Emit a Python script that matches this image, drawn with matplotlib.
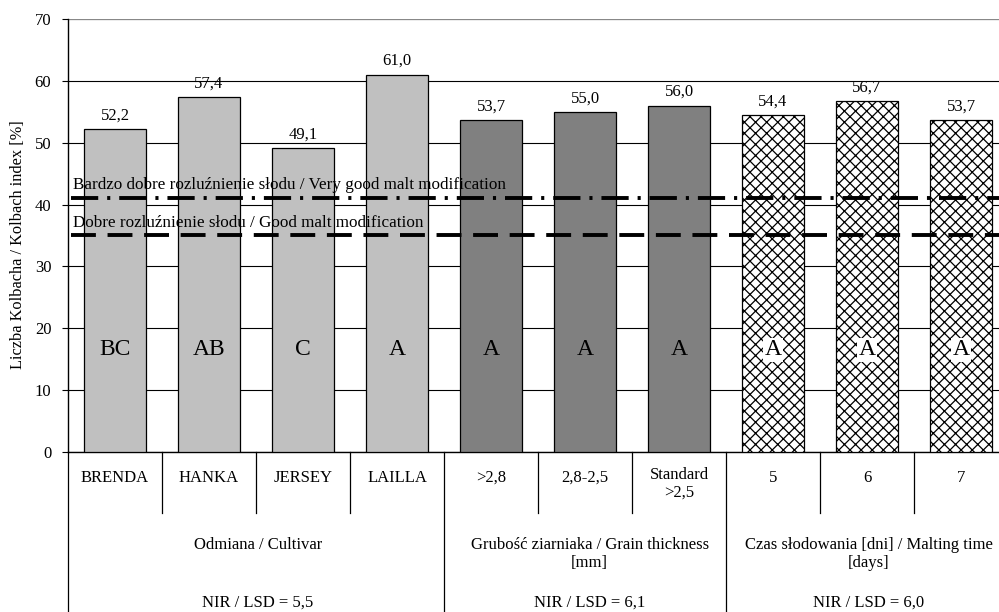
import matplotlib.pyplot as plt
from matplotlib import transforms

plt.rcParams['font.family'] = ['Liberation Serif', 'DejaVu Serif']
plt.rcParams['hatch.linewidth'] = 0.9

# Dane
kategorie = ['BRENDA', 'HANKA', 'JERSEY', 'LAILLA', '>2,8', '2,8-2,5', 'Standard\n>2,5', '5', '6', '7', '']
wartosci = [52.2, 57.4, 49.1, 61.0, 53.7, 55.0, 56.0, 54.4, 56.7, 53.7, 0]
litery = ['BC', 'AB', 'C', 'A', 'A', 'A', 'A', 'A', 'A', 'A', '']
grupy = ['Odmiana / Cultivar', 'Grubość ziarniaka / Grain thickness\n[mm]',
         'Czas słodowania [dni] / Malting time\n[days]']
nir = ['NIR / LSD = 5,5', 'NIR / LSD = 6,1', 'NIR / LSD = 6,0']
granice_grup = [-0.5, 3.5, 6.5]
srodki_grup = [1.52, 5.05, 8.02]
prog_bardzo_dobre = 41.0
prog_dobre = 35.0

kolory = ['#c0c0c0'] * 4 + ['#808080'] * 3 + ['white'] * 4
kreskowanie = [None] * 7 + ['xxx'] * 4

fig = plt.figure(figsize=(9.99, 6.12), dpi=100)
ax = fig.add_axes([68 / 999, 160 / 612, 1034 / 999, 433 / 612])

n = len(kategorie)
x = list(range(n))
for i in range(n - 1):
    ax.bar(x[i], wartosci[i], width=0.67, color=kolory[i], edgecolor='black',
           linewidth=0.9, hatch=kreskowanie[i], zorder=3)
    ax.text(x[i], wartosci[i] + 0.9, f"{wartosci[i]:.1f}".replace('.', ','),
            ha='center', va='bottom', fontsize=12, zorder=5)
    if kreskowanie[i]:
        ax.text(x[i], 16.5, litery[i], ha='center', va='center', fontsize=17, zorder=5,
                bbox=dict(facecolor='white', edgecolor='none', pad=1))
    else:
        ax.text(x[i], 16.5, litery[i], ha='center', va='center', fontsize=17, zorder=5)

# Linie progowe
ax.plot([-0.47, 10.5], [prog_bardzo_dobre] * 2, color='black', linewidth=2.8,
        linestyle=(0, (7, 2.3, 0.8, 2.3)), zorder=4)
ax.plot([-0.47, 10.5], [prog_dobre] * 2, color='black', linewidth=2.8,
        linestyle=(0, (6.4, 3.0)), zorder=4)
ax.text(-0.45, prog_bardzo_dobre + 2.1, 'Bardzo dobre rozluźnienie słodu / Very good malt modification',
        ha='left', va='center', fontsize=12.3, zorder=6)
ax.text(-0.45, prog_dobre + 2.1, 'Dobre rozluźnienie słodu / Good malt modification',
        ha='left', va='center', fontsize=12.3, zorder=6)

ax.set_xlim(-0.5, n - 0.5)
ax.set_ylim(0, 70)
ax.set_yticks(range(0, 71, 10))
ax.tick_params(axis='y', labelsize=12, length=4, pad=8, direction='out')
ax.set_xticks([])
ax.yaxis.grid(True, color='black', linewidth=0.8)
ax.set_axisbelow(True)
for s in ['top', 'right']:
    ax.spines[s].set_visible(False)
ax.axhline(70, color='#888888', linewidth=1.5, zorder=1)
ax.spines['left'].set_linewidth(1.0)
ax.spines['bottom'].set_linewidth(1.0)
fig.text(18 / 999, 1 - 245 / 612, 'Liczba Kolbacha / Kolbach index [%]', rotation=90,
         ha='center', va='center', fontsize=11.8)

# Tabela pod osią
tr = transforms.blended_transform_factory(ax.transData, fig.transFigure)
y0 = 160 / 612
for i in range(n):
    granica = i - 0.5
    dol = 0.0 if granica in granice_grup else (612 - 513) / 612
    ax.plot([granica, granica], [y0, dol], color='black', linewidth=0.9,
            transform=tr, clip_on=False)
    if kategorie[i]:
        if '\n' in kategorie[i]:
            ax.text(x[i], (612 - 467) / 612, kategorie[i], ha='center', va='top',
                    fontsize=12, transform=tr, linespacing=1.15)
        else:
            ax.text(x[i], (612 - 478) / 612, kategorie[i], ha='center', va='center',
                    fontsize=12, transform=tr)

for g in range(3):
    ax.text(srodki_grup[g], (612 - 537) / 612, grupy[g], ha='center', va='top',
            fontsize=12, transform=tr, linespacing=1.2)
    ax.text(srodki_grup[g], (612 - 603) / 612, nir[g], ha='center', va='center',
            fontsize=12, transform=tr)

fig.savefig('out.png', dpi=100)
